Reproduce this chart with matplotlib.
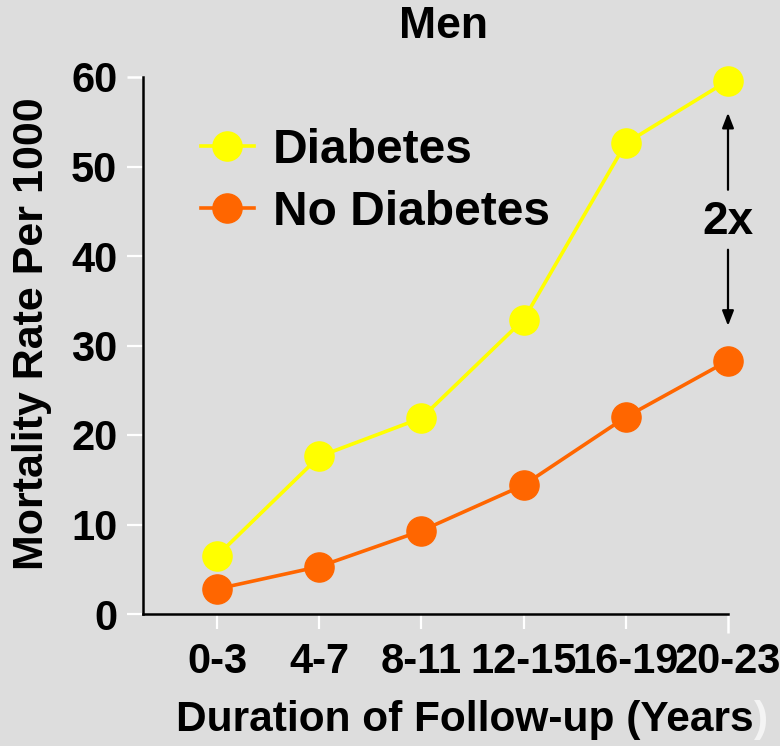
import matplotlib
matplotlib.use("Agg")
import matplotlib.pyplot as plt

categories = ["0-3", "4-7", "8-11", "12-15", "16-19", "20-23"]
diabetes = [6.5, 17.6, 21.9, 32.9, 52.6, 59.6]
no_diabetes = [2.8, 5.3, 9.3, 14.4, 22.0, 28.3]
yticks = [0, 10, 20, 30, 40, 50, 60]

BG = "#DDDDDD"
YELLOW = "#FFFF00"
ORANGE = "#FF6600"
FONT = "Liberation Sans"

plt.rcParams["font.family"] = [FONT, "DejaVu Sans"]
plt.rcParams["font.weight"] = "bold"

fig = plt.figure(figsize=(7.8, 7.46), dpi=100, facecolor=BG)
ax = fig.add_axes([143/780, 1-614/746, (728-143)/780, (614-77)/746])
ax.set_facecolor(BG)

x = list(range(len(categories)))
ax.plot(x, diabetes, color=YELLOW, lw=2.6, marker="o", ms=21, mec=YELLOW,
        label="Diabetes", clip_on=False, zorder=3)
ax.plot(x, no_diabetes, color=ORANGE, lw=2.6, marker="o", ms=21, mec=ORANGE,
        label="No Diabetes", clip_on=False, zorder=3)

ax.set_xlim(-0.725, 5)
ax.set_ylim(0, 60)
ax.set_xticks(x)
ax.set_xticklabels(categories, fontsize=30, fontweight="bold")
ax.set_yticks(yticks)
ax.set_yticklabels([str(v) for v in yticks], fontsize=30, fontweight="bold")

for s in ["top", "right"]:
    ax.spines[s].set_visible(False)
for s in ["left", "bottom"]:
    ax.spines[s].set_linewidth(1.8)
    ax.spines[s].set_color("black")

ax.tick_params(axis="y", direction="out", length=11.5, width=1.6, color="white", pad=7)
ax.tick_params(axis="x", direction="out", length=10.5, width=1.6, color="white", pad=10)
ytl = ax.yaxis.get_major_ticks()
ytl[-1].tick1line.set_color("black")
ytl[-1].tick1line.set_markeredgewidth(1.8)
xtl = ax.xaxis.get_major_ticks()
xtl[-1].tick1line.set_color("black")
xtl[-1].tick1line.set_markersize(14)
xtl[-1].tick1line.set_markeredgewidth(1.8)

fig.text(443/780, 1-27/746, "Men", ha="center", va="center", fontsize=32,
         fontweight="bold")

fig.text(32/780, 1-334/746, "Mortality Rate Per 1000", rotation=90,
         ha="center", va="center", fontsize=31, fontweight="bold")

t = fig.text(176/780, 1-720/746, "Duration of Follow-up (Years", ha="left",
             va="center", fontsize=30.5, fontweight="bold")
ax.annotate(")", xy=(1, 0), xycoords=t, xytext=(0.5, 0), textcoords="offset points",
            ha="left", va="bottom", fontsize=30.5, fontweight="bold",
            color="#F4F4F4", annotation_clip=False)

leg = ax.legend(loc="upper left", bbox_to_anchor=(201/780, 1-128/746),
                bbox_transform=fig.transFigure, frameon=False,
                prop={"family": FONT, "weight": "bold", "size": 34.5},
                handlelength=1.1, handletextpad=0.4, labelspacing=0.36,
                borderpad=0, borderaxespad=0, markerscale=1.0)

# 2x annotation
ax.annotate("", xy=(5, 56.0), xytext=(5, 47.4),
            arrowprops=dict(arrowstyle="-|>,head_length=0.9,head_width=0.35",
                            color="black", lw=1.6, shrinkA=0, shrinkB=0))
ax.annotate("", xy=(5, 32.2), xytext=(5, 40.7),
            arrowprops=dict(arrowstyle="-|>,head_length=0.9,head_width=0.35",
                            color="black", lw=1.6, shrinkA=0, shrinkB=0))
ax.text(5, 43.8, "2x", ha="center", va="center", fontsize=33, fontweight="bold")

fig.savefig("out.png", dpi=100, facecolor=BG)
